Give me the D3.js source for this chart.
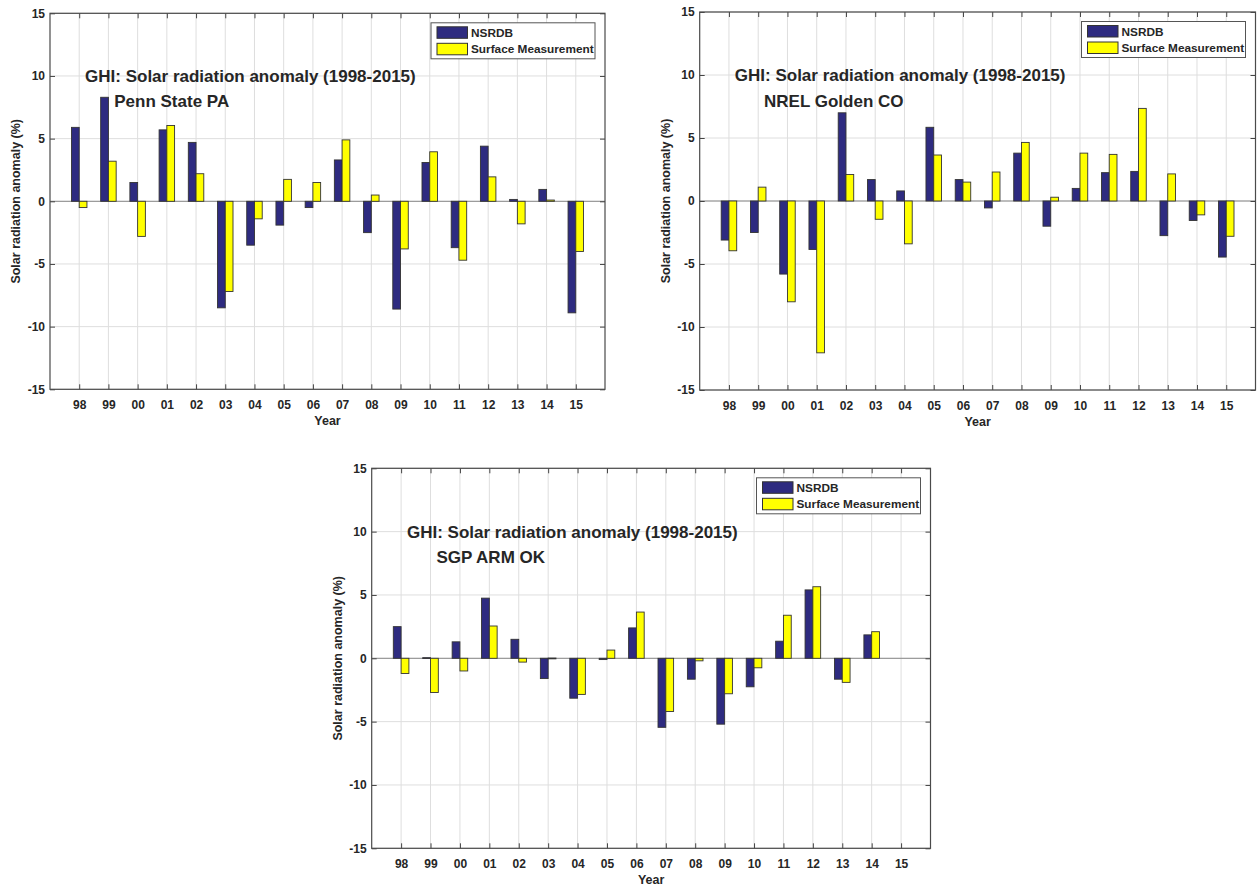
<!DOCTYPE html>
<html>
<head>
<meta charset="utf-8">
<script src="https://cdnjs.cloudflare.com/ajax/libs/d3/7.8.5/d3.min.js"></script>
<style>
    body { margin: 0; background: #fff; }
    svg text { font-family: "Liberation Sans", Arial, Helvetica, sans-serif; font-weight: bold; fill: #262626; }
</style>
</head>
<body>
<svg id="chart" width="1258" height="888"></svg>
<script>
// category labels (two-digit years 1998-2015)
const years = ["98", "99", "00", "01", "02", "03", "04", "05", "06", "07", "08", "09", "10", "11", "12", "13", "14", "15"];
const yTicks = [-15, -10, -5, 0, 5, 10, 15];
const seriesNames = ["NSRDB", "Surface Measurement"];
const titleText = "GHI: Solar radiation anomaly (1998-2015)";

// Penn State PA
const pennNsrdb   = [5.9, 8.3, 1.5, 5.7, 4.7, -8.5, -3.5, -1.9, -0.5, 3.3, -2.5, -8.6, 3.1, -3.7, 4.4, 0.15, 0.95, -8.9];
const pennSurface = [-0.5, 3.2, -2.8, 6.05, 2.2, -7.2, -1.4, 1.75, 1.5, 4.9, 0.5, -3.8, 3.95, -4.7, 1.95, -1.8, 0.1, -4.0];

// NREL Golden CO
const nrelNsrdb   = [-3.1, -2.5, -5.8, -3.85, 7.0, 1.7, 0.8, 5.85, 1.7, -0.55, 3.8, -2.0, 1.0, 2.25, 2.35, -2.75, -1.55, -4.45];
const nrelSurface = [-3.95, 1.1, -8.0, -12.05, 2.1, -1.45, -3.4, 3.65, 1.5, 2.3, 4.65, 0.3, 3.8, 3.7, 7.35, 2.15, -1.1, -2.8];

// SGP ARM OK (no 2015 values)
const sgpNsrdb   = [2.5, 0.05, 1.3, 4.75, 1.5, -1.6, -3.15, -0.1, 2.4, -5.45, -1.65, -5.2, -2.25, 1.35, 5.4, -1.65, 1.85, null];
const sgpSurface = [-1.2, -2.7, -1.0, 2.55, -0.3, 0.02, -2.85, 0.65, 3.65, -4.2, -0.2, -2.8, -0.75, 3.4, 5.65, -1.9, 2.1, null];

const colors = ["#2e2b80", "#ffff00"];

class AnomalyBarChart {
    constructor(svg, box, station, nsrdb, surface) {
        this.box = box;
        this.station = station;
        this.series = [nsrdb, surface];
        this.g = svg.append("g");
        this.barW = 0.265;

        this.x = d3.scaleLinear()
            .domain([0, years.length + 1])
            .range([box.left, box.right]);

        this.y = d3.scaleLinear()
            .domain([-15, 15])
            .range([box.bottom, box.top]);

        this.drawGrid();
        this.drawBars();
        this.drawAxes();
        this.drawText();
        this.drawLegend();
    }

    drawGrid() {
        const b = this.box;
        this.g.append("rect")
            .attr("x", b.left).attr("y", b.top)
            .attr("width", b.right - b.left).attr("height", b.bottom - b.top)
            .attr("fill", "#fff");

        this.g.selectAll(".vgrid")
            .data(years)
            .join("line")
            .attr("x1", (d, i) => this.x(i + 1))
            .attr("x2", (d, i) => this.x(i + 1))
            .attr("y1", b.top).attr("y2", b.bottom)
            .attr("stroke", "#dedede");

        this.g.selectAll(".hgrid")
            .data(yTicks)
            .join("line")
            .attr("x1", b.left).attr("x2", b.right)
            .attr("y1", d => this.y(d)).attr("y2", d => this.y(d))
            .attr("stroke", "#dedede");

        // baseline at zero
        this.g.append("line")
            .attr("x1", b.left).attr("x2", b.right)
            .attr("y1", this.y(0)).attr("y2", this.y(0))
            .attr("stroke", "#8a8a8a");
    }

    drawBars() {
        const unit = this.x(1) - this.x(0);
        this.series.forEach((values, s) => {
            const data = values.map((v, i) => ({ i: i, v: v })).filter(d => d.v !== null);
            this.g.selectAll(`.bar-${s}`)
                .data(data)
                .join("rect")
                .attr("class", `bar-${s}`)
                .attr("x", d => this.x(d.i + 1) + (s === 0 ? -this.barW * unit : 0))
                .attr("width", this.barW * unit)
                .attr("y", d => this.y(Math.max(0, d.v)))
                .attr("height", d => Math.max(0.8, Math.abs(this.y(d.v) - this.y(0))))
                .attr("fill", colors[s])
                .attr("stroke", "#333")
                .attr("stroke-width", 0.9);
        });
    }

    drawAxes() {
        const b = this.box;
        const idx = d3.range(1, years.length + 1);

        const left = this.g.append("g")
            .attr("transform", `translate(${b.left},0)`)
            .call(d3.axisLeft(this.y).tickValues(yTicks).tickSizeInner(-5).tickSizeOuter(0)
                .tickPadding(5).tickFormat(d => `${d}`));
        left.select(".domain").remove();
        left.selectAll("text").style("font-size", "12px");

        const right = this.g.append("g")
            .attr("transform", `translate(${b.right},0)`)
            .call(d3.axisRight(this.y).tickValues(yTicks).tickSizeInner(-5).tickSizeOuter(0).tickFormat(""));
        right.select(".domain").remove();

        const top = this.g.append("g")
            .attr("transform", `translate(0,${b.top})`)
            .call(d3.axisTop(this.x).tickValues(idx).tickSizeInner(-5).tickSizeOuter(0).tickFormat(""));
        top.select(".domain").remove();

        const bottom = this.g.append("g")
            .attr("transform", `translate(0,${b.bottom})`)
            .call(d3.axisBottom(this.x).tickValues(idx).tickSizeInner(-5).tickSizeOuter(0)
                .tickPadding(11).tickFormat(d => years[d - 1]));
        bottom.select(".domain").remove();
        bottom.selectAll("text").style("font-size", "12px");

        this.g.selectAll(".tick line").attr("stroke", "#444");
        this.g.selectAll(".tick text").attr("fill", "#262626");

        this.g.append("rect")
            .attr("x", b.left).attr("y", b.top)
            .attr("width", b.right - b.left).attr("height", b.bottom - b.top)
            .attr("fill", "none")
            .attr("stroke", "#4a4a4a")
            .attr("stroke-width", 1.2);

        this.g.append("text")
            .attr("x", (b.left + b.right) / 2)
            .attr("y", b.bottom + 36)
            .attr("text-anchor", "middle")
            .style("font-size", "12.5px")
            .text("Year");

        this.g.append("text")
            .attr("transform", "rotate(-90)")
            .attr("x", -(b.top + b.bottom) / 2)
            .attr("y", b.left - 30)
            .attr("text-anchor", "middle")
            .style("font-size", "12.5px")
            .text("Solar radiation anomaly (%)");
    }

    drawText() {
        this.g.append("text")
            .attr("x", this.x(1.2))
            .attr("y", this.y(9.5))
            .style("font-size", "17px")
            .text(titleText);

        this.g.append("text")
            .attr("x", this.x(2.2))
            .attr("y", this.y(7.5))
            .style("font-size", "17px")
            .text(this.station);
    }

    drawLegend() {
        const b = this.box;
        const w = 164, h = 36;
        const lg = this.g.append("g")
            .attr("transform", `translate(${b.right - 10 - w},${b.top + 9.5})`);

        lg.append("rect")
            .attr("width", w).attr("height", h)
            .attr("fill", "#fff")
            .attr("stroke", "#555");

        seriesNames.forEach((name, s) => {
            lg.append("rect")
                .attr("x", 6).attr("y", 4 + s * 16.5)
                .attr("width", 30.5).attr("height", 11.5)
                .attr("fill", colors[s])
                .attr("stroke", "#333");
            lg.append("text")
                .attr("x", 40).attr("y", 14.5 + s * 16.2)
                .style("font-size", "11.8px")
                .text(name);
        });
    }
}

const svg = d3.select("#chart");
new AnomalyBarChart(svg, { left: 50, right: 605, top: 13.3, bottom: 389.3 }, "Penn State PA", pennNsrdb, pennSurface);
new AnomalyBarChart(svg, { left: 699.7, right: 1255.5, top: 12, bottom: 390 }, "NREL Golden CO", nrelNsrdb, nrelSurface);
new AnomalyBarChart(svg, { left: 371.7, right: 930.5, top: 468.3, bottom: 848.3 }, "SGP ARM OK", sgpNsrdb, sgpSurface);
</script>
</body>
</html>
